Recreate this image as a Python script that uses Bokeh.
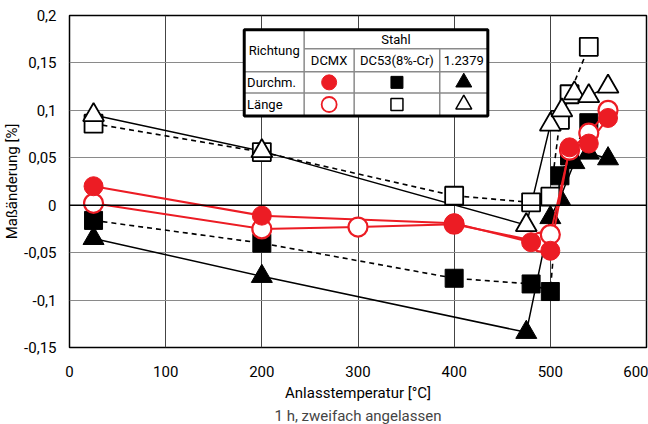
from bokeh.plotting import figure
from bokeh.models import FixedTicker, Range1d, Span, Title
from bokeh.core.properties import value
from bokeh.embed import file_html
from bokeh.resources import INLINE

# ---------------- data ----------------
x_ticks = [0, 100, 200, 300, 400, 500, 600]
y_ticks = [-0.15, -0.1, -0.05, 0, 0.05, 0.1, 0.15, 0.2]
y_tick_labels = ["-0,15", "-0,1", "-0,05", "0", "0,05", "0,1", "0,15", "0,2"]

# DCMX
t_dcmx_d = [25, 200, 400, 480, 500, 520, 540, 560]
v_dcmx_d = [0.020, -0.011, -0.019, -0.039, -0.048, 0.061, 0.065, 0.092]
t_dcmx_l = [25, 200, 300, 400, 490, 500, 520, 540, 560]
v_dcmx_l = [0.002, -0.025, -0.023, -0.020, -0.039, -0.031, 0.058, 0.076, 0.100]
# DC53 (8%-Cr)
t_dc53_d = [25, 200, 400, 480, 500, 510, 520, 540]
v_dc53_d = [-0.016, -0.040, -0.077, -0.083, -0.091, 0.031, 0.052, 0.087]
t_dc53_l = [25, 200, 400, 480, 500, 510, 520, 540]
v_dc53_l = [0.086, 0.056, 0.010, 0.003, 0.009, 0.090, 0.117, 0.167]
# 1.2379
t_k_d = [25, 200, 475, 500, 510, 525, 540, 560]
v_k_d = [-0.035, -0.075, -0.134, -0.013, 0.007, 0.045, 0.055, 0.049]
t_k_l = [25, 200, 475, 500, 512, 525, 540, 560]
v_k_l = [0.095, 0.057, -0.021, 0.085, 0.100, 0.118, 0.115, 0.125]

legend_steels = ["DCMX", "DC53(8%-Cr)", "1.2379"]
legend_dirs = ["Durchm.", "Länge"]

# ---------------- style ----------------
FONT = "Roboto"
RED = "#ec1c24"
BLACK = "#000000"

p = figure(width=648, height=424, x_range=Range1d(0, 600), y_range=Range1d(-0.15, 0.2),
           output_backend="svg", toolbar_location=None,
           min_border_left=60, min_border_right=2, min_border_top=15, min_border_bottom=77)

p.outline_line_color = "black"
p.outline_line_width = 1.5
p.background_fill_color = "white"
p.border_fill_color = "white"

p.xaxis.ticker = FixedTicker(ticks=x_ticks)
p.yaxis.ticker = FixedTicker(ticks=y_ticks)
p.yaxis.major_label_overrides = {t: l for t, l in zip(y_ticks, y_tick_labels)}
for ax in (p.xaxis[0], p.yaxis[0]):
    ax.axis_line_color = None
    ax.major_tick_line_color = None
    ax.minor_tick_line_color = None
    ax.major_label_text_font = FONT
    ax.major_label_text_font_size = "15px"
    ax.major_label_text_color = "black"
    ax.axis_label_text_font = FONT
    ax.axis_label_text_font_size = "15px"
    ax.axis_label_text_font_style = "normal"
    ax.axis_label_text_color = "black"
p.xaxis.major_label_standoff = 12
p.yaxis.major_label_standoff = 7
p.xaxis.axis_label = "Anlasstemperatur [°C]"
p.xaxis.axis_label_standoff = 4
p.yaxis.axis_label = "Maßänderung [%]"
p.yaxis.axis_label_standoff = 0

sub = Title(text="1 h, zweifach angelassen", align="center", text_font=FONT,
            text_font_size="15px", text_font_style="normal", standoff=0)
p.add_layout(sub, "below")

p.xgrid.ticker = FixedTicker(ticks=[100, 200, 300, 400, 500])
p.xgrid.grid_line_color = "#444444"
p.xgrid.grid_line_width = 1
p.ygrid.ticker = FixedTicker(ticks=[-0.1, -0.05, 0.05, 0.1, 0.15])
p.ygrid.grid_line_color = "#8a8a8a"
p.ygrid.grid_line_width = 1.2
p.add_layout(Span(location=0, dimension="width", line_color="black", line_width=1.5))

# ---------------- series ----------------
p.line(t_dc53_l, v_dc53_l, line_color=BLACK, line_width=1.6, line_dash="5 4")
p.line(t_dc53_d, v_dc53_d, line_color=BLACK, line_width=1.6, line_dash="5 4")
p.line(t_k_l, v_k_l, line_color=BLACK, line_width=1.5)
p.line(t_k_d, v_k_d, line_color=BLACK, line_width=1.5)

p.scatter(t_dc53_d, v_dc53_d, marker="square", size=18, fill_color=BLACK, line_color=BLACK)
p.scatter(t_k_d, v_k_d, marker="triangle", size=21, fill_color=BLACK, line_color=BLACK)
p.scatter(t_dc53_l, v_dc53_l, marker="square", size=18, fill_color="white", line_color=BLACK, line_width=1.8)
p.scatter(t_k_l, v_k_l, marker="triangle", size=21, fill_color="white", line_color=BLACK, line_width=1.8)

p.line(t_dcmx_l, v_dcmx_l, line_color=RED, line_width=2)
p.line(t_dcmx_d, v_dcmx_d, line_color=RED, line_width=2)
p.scatter(t_dcmx_l, v_dcmx_l, marker="circle", size=19, fill_color="white", line_color=RED, line_width=2.2)
p.scatter(t_dcmx_d, v_dcmx_d, marker="circle", size=19, fill_color=RED, line_color=RED)

# ---------------- legend table ----------------
xl, xc1, xc2, xc3, xr = 181.7, 244.0, 296.0, 385.0, 435.0
yt, yr1, yr2, yr3, yb = 0.185, 0.165, 0.1406, 0.1184, 0.094
p.quad(left=[xl], right=[xr], top=[yt], bottom=[yb], fill_color="white", line_color=None)
grey = "#8a8a8a"
p.segment(x0=[xc1, xl, xl], y0=[yr1, yr2, yr3], x1=[xr, xr, xr], y1=[yr1, yr2, yr3],
          line_color=grey, line_width=1.5)
p.segment(x0=[xc1, xc2, xc3], y0=[yt, yr1, yr1], x1=[xc1, xc2, xc3], y1=[yb, yb, yb],
          line_color=grey, line_width=1.5)
p.quad(left=[xl], right=[xr], top=[yt], bottom=[yb], fill_color=None, line_color="black", line_width=3)

cx = [(xc1 + xc2) / 2, (xc2 + xc3) / 2, (xc3 + xr) / 2]
txt_kw = dict(text_font=value(FONT), text_font_size="13px", text_color="black",
              text_baseline="middle")
p.text(x=[(xl + xc1) / 2], y=[(yt + yr2) / 2], text=["Richtung"], text_align="center", **txt_kw)
p.text(x=[(xc1 + xr) / 2], y=[(yt + yr1) / 2], text=["Stahl"], text_align="center", **txt_kw)
p.text(x=cx, y=[(yr1 + yr2) / 2] * 3, text=legend_steels, text_align="center", **txt_kw)
p.text(x=[xl + 3] * 2, y=[(yr2 + yr3) / 2, (yr3 + yb) / 2], text=legend_dirs, text_align="left", **txt_kw)

yd, yl = (yr2 + yr3) / 2, (yr3 + yb) / 2
p.scatter([cx[0]], [yd], marker="circle", size=15, fill_color=RED, line_color=RED)
p.scatter([cx[1]], [yd], marker="square", size=12, fill_color=BLACK, line_color=BLACK)
p.scatter([cx[2]], [yd], marker="triangle", size=16, fill_color=BLACK, line_color=BLACK)
p.scatter([cx[0]], [yl], marker="circle", size=15, fill_color="white", line_color=RED, line_width=1.8)
p.scatter([cx[1]], [yl], marker="square", size=12, fill_color="white", line_color=BLACK, line_width=1.5)
p.scatter([cx[2]], [yl], marker="triangle", size=16, fill_color="white", line_color=BLACK, line_width=1.5)

open("out.html", "w").write(file_html(p, INLINE))
